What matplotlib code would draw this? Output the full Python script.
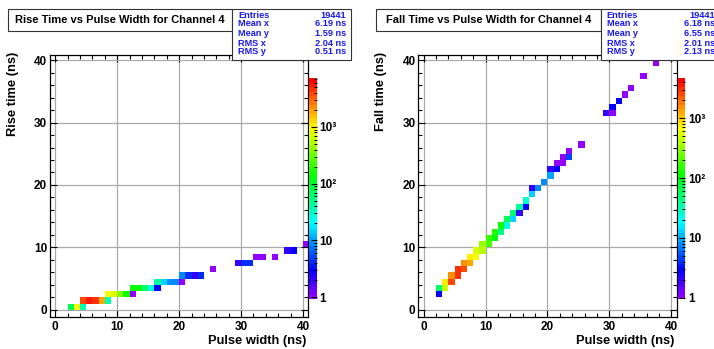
import colorsys
import numpy as np
import matplotlib
matplotlib.use('Agg')
import matplotlib.pyplot as plt
from matplotlib.colors import ListedColormap, LogNorm
from matplotlib.patches import Rectangle
from matplotlib.ticker import MultipleLocator, LogLocator

plt.rcParams['font.family'] = ['Liberation Sans', 'DejaVu Sans']
plt.rcParams['font.weight'] = 'bold'

# Rise time vs pulse width (bin lower edges, counts)
rise_bx = [2, 3, 4, 4, 5, 6, 7, 8, 8, 9, 10, 11, 12, 12, 13, 14, 15, 16,
           16, 17, 18, 19, 20, 20, 21, 22, 23, 25, 29, 30, 31, 32, 33, 35, 37, 38, 40]
rise_by = [0, 0, 0, 1, 1, 1, 1, 1, 2, 2, 2, 2, 2, 3, 3, 3, 3, 3,
           4, 4, 4, 4, 4, 5, 5, 5, 5, 6, 7, 7, 7, 8, 8, 8, 9, 9, 10]
rise_n = [70, 1000, 35, 4000, 5500, 5000, 2000, 35, 1000, 800, 400, 150, 1, 150, 130, 60, 25, 3,
          40, 15, 9, 9, 1, 9, 4, 2, 4, 1, 2, 4, 4, 1, 1, 1, 2, 3, 1]

# Fall time vs pulse width
fall_bx = [2, 2, 3, 3, 4, 4, 5, 5, 6, 6, 7, 7, 8, 8, 9, 9, 10, 10, 11, 11, 12, 12,
           13, 13, 14, 14, 15, 15, 16, 16, 17, 17, 18, 19, 20, 20, 21, 21, 22, 22,
           23, 23, 25, 29, 30, 30, 31, 32, 33, 35, 37]
fall_by = [2, 3, 3, 4, 4, 5, 5, 6, 6, 7, 7, 8, 8, 9, 9, 10, 10, 11, 11, 12, 12, 13,
           13, 14, 14, 15, 15, 16, 16, 17, 18, 19, 19, 20, 21, 22, 22, 23, 23, 24,
           24, 25, 26, 31, 31, 32, 33, 34, 35, 37, 39]
fall_n = [3, 50, 500, 800, 2400, 1500, 3000, 2800, 2600, 1600, 1300, 800, 700, 550,
          380, 330, 190, 170, 110, 140, 45, 120, 22, 65, 14, 55, 2, 35, 3, 25, 13, 2,
          8, 8, 10, 2, 3, 1, 1, 1, 5, 1, 1, 2, 1, 3, 3, 1, 1, 1, 1]

rise_stats = [('Entries', '19441'), ('Mean x', '6.19 ns'), ('Mean y', '1.59 ns'),
              ('RMS x', '2.04 ns'), ('RMS y', '0.51 ns')]
fall_stats = [('Entries', '19441'), ('Mean x', '6.18 ns'), ('Mean y', '6.55 ns'),
              ('RMS x', '2.01 ns'), ('RMS y', '2.13 ns')]

# ROOT "pretty palette": violet -> red in HLS space
pal = [colorsys.hls_to_rgb((280 - (i + 1) * 5.6) / 360.0, 0.5, 1.0) for i in range(50)]
cmap = ListedColormap(pal)

W, H = 714, 349
fig = plt.figure(figsize=(W / 100, H / 100), dpi=100)


def px_rect(x0, y0, x1, y1):
    return [x0 / W, 1 - y1 / H, (x1 - x0) / W, (y1 - y0) / H]


def panel(x0, bx, by, n, vmin, vmax, title, ylabel, stats, title_box, stat_box):
    ax = fig.add_axes(px_rect(x0, 54.5, x0 + 258.3, 316.7))
    bins = np.arange(0, 42)
    h = ax.hist2d(np.array(bx) + 0.5, np.array(by) + 0.5, bins=[bins, bins], weights=n,
                  cmap=cmap, norm=LogNorm(vmin=vmin, vmax=vmax), cmin=0.5, zorder=2)
    ax.set_xlim(-0.85, 40.85)
    ax.set_ylim(-1.1, 40.9)
    for a in (ax.xaxis, ax.yaxis):
        a.set_major_locator(MultipleLocator(10))
        a.set_minor_locator(MultipleLocator(2))
    ax.tick_params(which='both', direction='in', top=True, right=True, labelsize=8.5)
    ax.tick_params(which='major', length=5, width=0.8)
    ax.tick_params(which='minor', length=3, width=0.8)
    ax.tick_params(axis='x', pad=3)
    ax.tick_params(axis='y', pad=2)
    ax.grid(True, which='major', color='#aaaaaa', lw=0.9, zorder=1)
    ax.set_axisbelow(True)
    for s in ax.spines.values():
        s.set_linewidth(0.9)

    # palette on the right of the frame
    cax = fig.add_axes(px_rect(x0 + 259.3, 78.3, x0 + 266.9, 299.3))
    cb = fig.colorbar(h[3], cax=cax)
    cb.outline.set_linewidth(0)
    cb.set_ticks([1, 10, 100, 1000])
    cb.set_ticklabels(['1', '10', '10\u00b2', '10\u00b3'])
    cax.yaxis.set_minor_locator(LogLocator(base=10, subs=np.arange(2, 10)))
    cax.tick_params(which='both', direction='in', right=True, left=False, labelsize=8.5, pad=2)
    cax.tick_params(which='major', length=4, width=0.8)
    cax.tick_params(which='minor', length=2, width=0.7)

    fig.text((x0 + 256) / W, 1 - 341 / H, 'Pulse width (ns)', ha='right', va='center', fontsize=9.3)
    fig.text((x0 - 37) / W, 1 - 52 / H, ylabel, ha='center', va='top', rotation=90, fontsize=9.3)

    # title box
    tx0, tx1 = title_box
    fig.add_artist(Rectangle((tx0 / W, 1 - 30.7 / H), (tx1 - tx0) / W, 21.4 / H,
                             transform=fig.transFigure, fc='white', ec='#333333', lw=0.8, zorder=5))
    fig.text((tx0 + tx1) / 2 / W, 1 - 20 / H, title, ha='center', va='center', fontsize=8.0, zorder=6)

    # stats box
    sx0, sx1 = stat_box
    fig.add_artist(Rectangle((sx0 / W, 1 - 59.5 / H), (sx1 - sx0) / W, 50.2 / H,
                             transform=fig.transFigure, fc='white', ec='#333333', lw=0.8, zorder=5))
    ys = [15, 24, 33, 43.5, 52]
    for (lab, val), yy in zip(stats, ys):
        fig.text((sx0 + 6) / W, 1 - yy / H, lab, ha='left', va='center', fontsize=6.6,
                 color='#1a1aee', zorder=6)
        fig.text((sx0 + 114) / W, 1 - yy / H, val, ha='right', va='center', fontsize=6.6,
                 color='#1a1aee', zorder=6)
    return ax


panel(50, rise_bx, rise_by, rise_n, 0.92, 7200, 'Rise Time vs Pulse Width for Channel 4',
      'Rise time (ns)', rise_stats, (8.3, 232), (232, 350.7))
panel(418.3, fall_bx, fall_by, fall_n, 0.94, 4650, 'Fall Time vs Pulse Width for Channel 4',
      'Fall time (ns)', fall_stats, (376, 600.7), (600.7, 718.7))

fig.savefig('out.png', dpi=100)
